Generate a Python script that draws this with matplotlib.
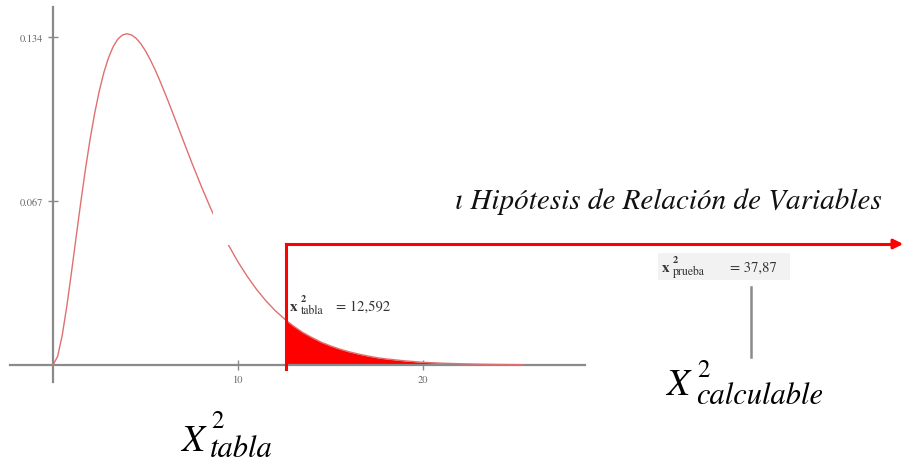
import numpy as np
import matplotlib
matplotlib.use("Agg")
import matplotlib.pyplot as plt
from matplotlib.patches import Rectangle
from matplotlib.lines import Line2D

# chi-square curve (df = 6)
chi_x = [0, 0.25, 0.5, 0.75, 1, 1.25, 1.5, 1.75, 2, 2.25, 2.5, 2.75, 3, 3.25, 3.5, 3.75,
         4, 4.25, 4.5, 4.75, 5, 5.25, 5.5, 5.75, 6, 6.25, 6.5, 6.75, 7, 7.25, 7.5, 8, 8.5,
         9, 9.5, 10, 10.5, 11, 11.5, 12, 12.5, 12.592, 13, 13.5, 14, 14.5, 15, 15.5, 16,
         16.5, 17, 17.5, 18, 18.5, 19, 19.5, 20, 21, 22, 23, 24, 25, 25.4]
chi_y = [0, 0.0035, 0.0122, 0.0242, 0.0379, 0.0523, 0.0664, 0.0798, 0.0920, 0.1027,
         0.1119, 0.1195, 0.1255, 0.1300, 0.1331, 0.1348, 0.1353, 0.1348, 0.1334, 0.1312,
         0.1283, 0.1248, 0.1209, 0.1166, 0.1120, 0.1073, 0.1024, 0.0975, 0.0925, 0.0876,
         0.0827, 0.0733, 0.0644, 0.0562, 0.0488, 0.0421, 0.0362, 0.0309, 0.0263, 0.0223,
         0.0189, 0.0183, 0.0159, 0.0133, 0.0112, 0.0093, 0.0078, 0.0065, 0.0054, 0.0045,
         0.0037, 0.0030, 0.0025, 0.0021, 0.0017, 0.0014, 0.0011, 0.00076, 0.00051,
         0.00034, 0.00022, 0.00015, 0.00012]
crit_x = 12.592
x_ticks = [10, 20]
y_ticks = [0.067, 0.134]
y_labels = ["0.067", "0.134"]
title = "\u0131 Hip\u00f3tesis de Relaci\u00f3n de Variables"
tabla_value = "= 12,592"
prueba_value = "= 37,87"

W, H = 907, 464
plt.rcParams['font.family'] = ['STIXGeneral', 'DejaVu Serif']

fig = plt.figure(figsize=(W / 100, H / 100), dpi=100)


def fx(px):
    return px / W


def fy(py):
    return 1 - py / H


def put(px, py, s, **kw):
    # text placed by pixel position of its left baseline
    fig.text(fx(px), fy(py), s, ha="left", va="baseline", zorder=6, **kw)


# axes placed so data 0 sits at pixel (53, 366)
ax = fig.add_axes([fx(10), fy(383), fx(585) - fx(10), fy(8) - fy(383)])
ax.set_xlim((10 - 53) / 18.5, (585 - 53) / 18.5)
ax.set_ylim(-(383 - 366) / 2448, (366 - 8) / 2448)
ax.patch.set_alpha(0)

for s in ["top", "right"]:
    ax.spines[s].set_visible(False)
ax.spines["left"].set_position(("data", 0))
ax.spines["bottom"].set_position(("data", 0))
for s in ["left", "bottom"]:
    ax.spines[s].set_color("#8a8a8a")
    ax.spines[s].set_linewidth(1.6)

ax.set_xticks(x_ticks)
ax.set_xticklabels([str(t) for t in x_ticks])
ax.set_yticks(y_ticks)
ax.set_yticklabels(y_labels)
ax.tick_params(axis="both", direction="inout", colors="#8a8a8a", labelcolor="#666666",
               labelsize=7.5, length=7, width=1)
ax.tick_params(axis="x", pad=3)

x = np.array(chi_x)
y = np.array(chi_y)
ax.plot(x, y, color="#e07070", lw=1.0, zorder=3)
mask = x >= crit_x
ax.fill_between(x[mask], 0, y[mask], color="#ff0000", lw=0, zorder=2)

# white patch pasted over part of the curve
fig.add_artist(Rectangle((fx(213), fy(246)), fx(455) - fx(213), fy(150) - fy(246),
                         transform=fig.transFigure, facecolor="white", edgecolor="none",
                         zorder=2))

# red bracket arrow
red_x = fx(53 + crit_x * 18.5)
fig.add_artist(Line2D([red_x, red_x], [fy(370), fy(245)], color="#ff0000", lw=2.2,
                      transform=fig.transFigure, zorder=5))
fig.add_artist(Line2D([red_x, fx(895)], [fy(245), fy(245)], color="#ff0000", lw=2.2,
                      transform=fig.transFigure, zorder=5))
ax.annotate("", xy=(fx(906), fy(245)), xycoords="figure fraction",
            xytext=(fx(890), fy(245)), textcoords="figure fraction",
            arrowprops=dict(arrowstyle="-|>", color="#ff0000", lw=2.2, mutation_scale=14),
            annotation_clip=False, zorder=6)

put(455, 209, title, fontsize=21, style="italic", color="#111111")

# x^2 tabla = 12,592
put(290, 311, "x", fontsize=11, weight="bold", color="#333333")
put(301, 302, "2", fontsize=7.5, weight="bold", color="#333333")
put(301, 314, "tabla", fontsize=8.5, color="#333333")
put(336, 311, tabla_value, fontsize=10.5, color="#333333")

# x^2 prueba = 37,87 on its grey strip
fig.add_artist(Rectangle((fx(658), fy(281)), fx(790) - fx(658), fy(254) - fy(281),
                         transform=fig.transFigure, facecolor="#f2f2f2", edgecolor="none",
                         zorder=5))
put(662, 272, "x", fontsize=11, weight="bold", color="#333333")
put(673, 263, "2", fontsize=7.5, weight="bold", color="#333333")
put(673, 275, "prueba", fontsize=8.5, color="#333333")
put(730, 272, prueba_value, fontsize=10.5, color="#333333")
fig.add_artist(Line2D([fx(751), fx(751)], [fy(288), fy(358)], color="#8a8a8a", lw=1.8,
                      transform=fig.transFigure, zorder=5))

# X^2 calculable
put(666, 395, "X", fontsize=27, style="italic", color="black")
put(697, 377, "2", fontsize=18, color="black")
put(696, 404, "calculable", fontsize=22, style="italic", color="black")

# X^2 tabla
put(181, 451, "X", fontsize=27, style="italic", color="black")
put(211, 428, "2", fontsize=18, color="black")
put(210, 457, "tabla", fontsize=22, style="italic", color="black")

fig.savefig("out.png", dpi=100, facecolor="white")
